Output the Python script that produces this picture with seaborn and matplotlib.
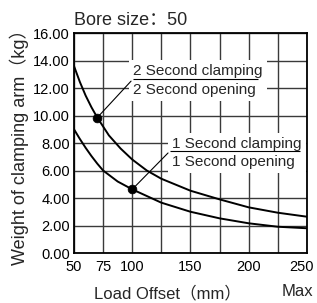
import numpy as np
import pandas as pd
import seaborn as sns
import matplotlib.pyplot as plt
from matplotlib.transforms import ScaledTranslation

# data
offset_2s = [50, 55, 60, 65, 70, 80, 90, 100, 112.5, 125, 150, 175, 200, 225, 250]
weight_2s = [13.6, 12.45, 11.45, 10.6, 9.85, 8.55, 7.6, 6.8, 6.0, 5.4, 4.53, 3.9, 3.32, 2.93, 2.64]
offset_1s = [50, 55, 60, 65, 70, 75, 87.5, 100, 125, 150, 175, 200, 225, 250]
weight_1s = [9.0, 8.3, 7.65, 7.05, 6.5, 6.0, 5.2, 4.63, 3.66, 3.0, 2.52, 2.16, 1.91, 1.8]
dot_x = [70, 100]
dot_y = [9.85, 4.63]

grid_x = [50, 75, 100, 125, 150, 175, 200, 225, 250]
x_labels = ['50', '75', '100', '', '150', '', '200', '', '250']
grid_y = [0, 2, 4, 6, 8, 10, 12, 14, 16]

sns.set_style('white')
plt.rcParams['font.family'] = ['Liberation Sans', 'Noto Sans CJK SC', 'DejaVu Sans']

fig = plt.figure(figsize=(3.17, 3.03), dpi=100)
ax = fig.add_axes([0.2334, 0.165, 0.735, 0.726])

df2 = pd.DataFrame({'x': offset_2s, 'y': weight_2s})
df1 = pd.DataFrame({'x': offset_1s, 'y': weight_1s})
sns.lineplot(data=df2, x='x', y='y', ax=ax, color='black', linewidth=1.4, zorder=4)
sns.lineplot(data=df1, x='x', y='y', ax=ax, color='black', linewidth=1.4, zorder=4)
sns.scatterplot(x=dot_x, y=dot_y, ax=ax, color='black', s=40, zorder=6, edgecolor='black')

ax.set_xlim(50, 250)
ax.set_ylim(0, 16)
ax.set_xticks(grid_x)
ax.set_xticklabels(x_labels)
ax.set_yticks(grid_y)
ax.set_yticklabels(['%.2f' % v for v in grid_y])
ax.tick_params(length=0, labelsize=10.5, pad=3, colors='black')
ax.tick_params(axis='x', pad=5)
# keep the last x label inside the figure
last = ax.get_xticklabels()[-1]
last.set_transform(last.get_transform() + ScaledTranslation(-4 / 72, 0, fig.dpi_scale_trans))
ax.grid(True, color='#3a3a3a', linewidth=1.0)
ax.set_axisbelow(True)
for s in ax.spines.values():
    s.set_color('black')
    s.set_linewidth(1.3)

ax.set_xlabel('Load Offset（mm）', fontsize=12, x=0.40, labelpad=8)
ax.set_ylabel('Weight of clamping arm（kg）', fontsize=13, labelpad=3)
ax.set_title('Bore size：50', loc='left', fontsize=13, pad=6)
ax.text(0.957, -0.177, 'Max', transform=ax.transAxes, fontsize=12,
        ha='center', va='center')

# labels with white boxes and leader lines
ax.text(100.6, 12.55, '2 Second clamping\n2 Second opening', fontsize=11,
        ha='left', va='center', linespacing=1.4, zorder=5,
        bbox=dict(fc='white', ec='none', pad=3))
ax.hlines(12.65, 100.6, 207.9, color='black', linewidth=0.8, zorder=5)
ax.annotate('', xy=(dot_x[0], dot_y[0]), xytext=(100.6, 12.65),
            arrowprops=dict(arrowstyle='-', lw=0.8, color='black'), zorder=5)

ax.text(134.1, 7.27, '1 Second clamping\n1 Second opening', fontsize=11,
        ha='left', va='center', linespacing=1.4, zorder=5,
        bbox=dict(fc='white', ec='none', pad=3))
ax.hlines(7.42, 132.4, 244, color='black', linewidth=0.8, zorder=5)
ax.annotate('', xy=(dot_x[1], dot_y[1]), xytext=(132.4, 7.42),
            arrowprops=dict(arrowstyle='-', lw=0.8, color='black'), zorder=5)

fig.savefig('out.png', dpi=100)
